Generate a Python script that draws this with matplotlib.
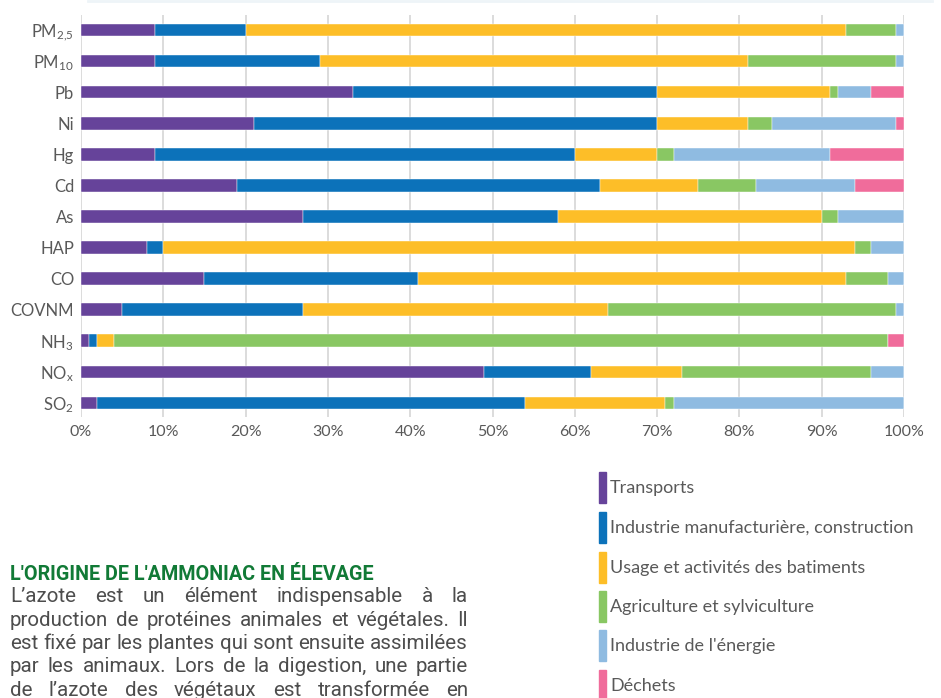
import matplotlib
matplotlib.use('Agg')
import matplotlib.pyplot as plt
import matplotlib.ticker as ticker
import numpy as np

plt.rcParams['font.family'] = ['Lato', 'DejaVu Sans']
plt.rcParams['mathtext.default'] = 'regular'

# polluants (du haut vers le bas)
polluants = [r'PM$_{2{,}5}$', r'PM$_{10}$', 'Pb', 'Ni', 'Hg', 'Cd', 'As', 'HAP',
             'CO', 'COVNM', r'NH$_{3}$', r'NO$_{x}$', r'SO$_{2}$']

secteurs = ['Transports', 'Industrie manufacturière, construction',
            'Usage et activités des batiments', 'Agriculture et sylviculture',
            "Industrie de l'énergie", 'Déchets']

# parts en % par secteur, même ordre que polluants
transports = [9, 9, 33, 21, 9, 19, 27, 8, 15, 5, 1, 49, 2]
industrie = [11, 20, 37, 49, 51, 44, 31, 2, 26, 22, 1, 13, 52]
batiments = [73, 52, 21, 11, 10, 12, 32, 84, 52, 37, 2, 11, 17]
agriculture = [6, 18, 1, 3, 2, 7, 2, 2, 5, 35, 94, 23, 1]
energie = [1, 1, 4, 15, 19, 12, 8, 4, 2, 1, 0, 4, 28]
dechets = [0, 0, 4, 1, 9, 6, 0, 0, 0, 0, 2, 0, 0]

cores = ['#66439A', '#0C72BA', '#FDBE28', '#89C763', '#8FBBE1', '#F06C9B']

fig = plt.figure(figsize=(9.41, 6.98), dpi=100)
ax = fig.add_axes([0.0861, 0.4026, 0.8746, 0.5759])

series = [transports, industrie, batiments, agriculture, energie, dechets]
y = np.arange(len(polluants))
gauche = np.zeros(len(polluants))
for valores, cor, nome in zip(series, cores, secteurs):
    valores = np.array(valores, dtype=float)
    ax.barh(y, valores, left=gauche, height=0.41, color=cor,
            edgecolor='white', linewidth=0.3, label=nome, zorder=3)
    gauche += valores

ax.set_xlim(0, 100)
ax.set_ylim(12.45, -0.48)
ax.set_yticks(y)
ax.set_yticklabels(polluants, fontsize=12, color='#595959')
ax.xaxis.set_major_locator(ticker.MultipleLocator(10))
ax.xaxis.set_major_formatter(ticker.FuncFormatter(lambda v, p: f'{v:.0f}%'))
ax.tick_params(axis='x', labelsize=11.5, labelcolor='#595959', length=0, pad=6)
ax.tick_params(axis='y', length=0, pad=5)
ax.grid(axis='x', color='#D9D9D9', linewidth=1.3, zorder=0)
for s in ax.spines.values():
    s.set_visible(False)

# fine ligne en haut
fig.add_artist(plt.Line2D([0.093, 0.99], [0.998, 0.998], color='#EEF4F8',
                          linewidth=2, transform=fig.transFigure))

# légende manuelle
leg_y = [488, 528, 568, 607, 646, 686]
for nome, cor, yy in zip(secteurs, cores, leg_y):
    yf = 1 - yy / 698
    fig.patches.append(plt.Rectangle((599 / 941, yf - 15 / 698), 7 / 941, 31 / 698,
                                     color=cor, transform=fig.transFigure))
    fig.text(610 / 941, yf, nome, fontsize=13, color='#595959', va='center')

# texte
fig.text(10 / 941, 1 - 575 / 698, "L'ORIGINE DE L'AMMONIAC EN ÉLEVAGE",
         fontsize=14.2, fontweight='bold', color='#117A36', va='center',
         family='Roboto')

linhas = ["L’azote est un élément indispensable à la",
          "production de protéines animales et végétales.  Il",
          "est fixé par les plantes qui sont ensuite assimilées",
          "par les animaux. Lors de la digestion, une partie",
          "de l’azote des végétaux est transformée en"]
x0, x1 = 10, 468
renderer = fig.canvas.get_renderer()
for i, linha in enumerate(linhas):
    yf = 1 - (597 + 23.3 * i) / 698
    palavras = linha.split()
    objs = [fig.text(0, yf, p, fontsize=14.8, color='#4D4D4D', va='center',
                     family='Roboto') for p in palavras]
    larguras = [o.get_window_extent(renderer).width for o in objs]
    gap = (x1 - x0 - sum(larguras)) / (len(objs) - 1)
    pos = x0
    for o, w in zip(objs, larguras):
        o.set_x(pos / 941)
        pos += w + gap

fig.savefig('out.png', dpi=100)
